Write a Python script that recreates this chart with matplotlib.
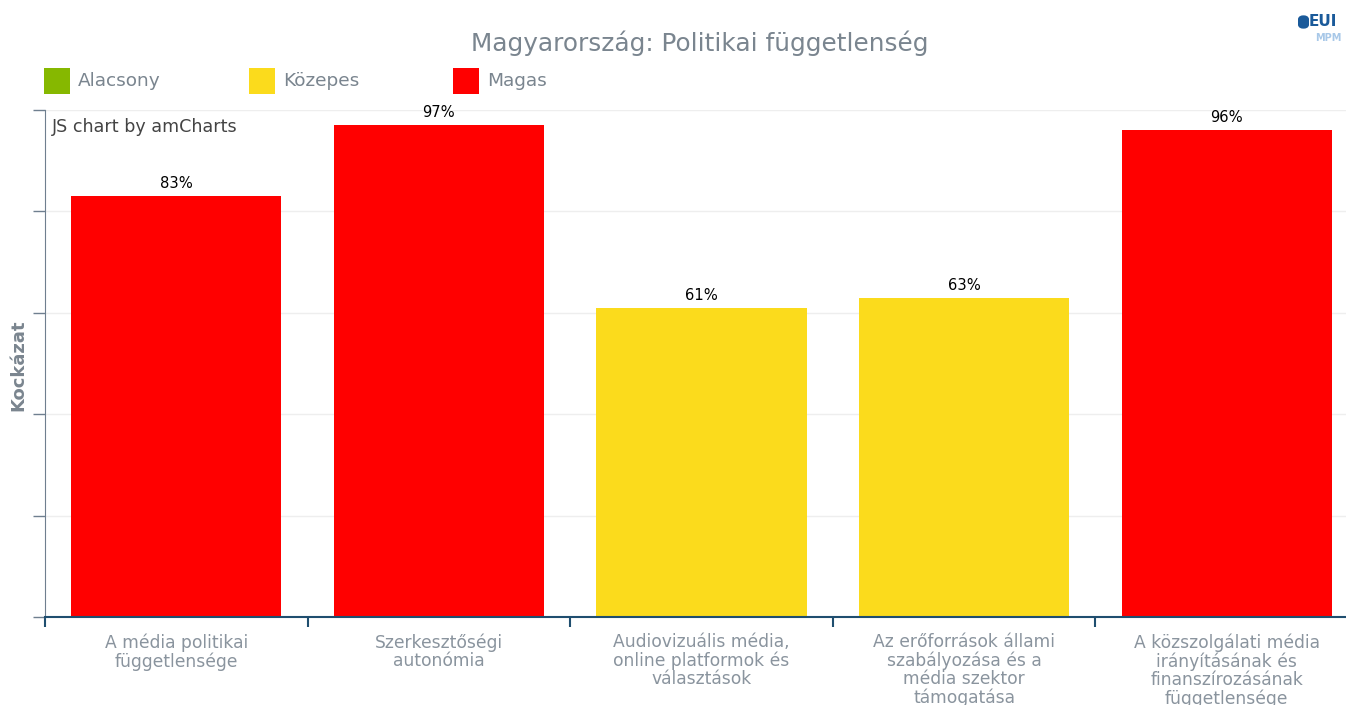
import matplotlib.pyplot as plt
from matplotlib.patches import Rectangle, FancyBboxPatch
import numpy as np

categories = ["A média politikai\nfüggetlensége",
              "Szerkesztőségi\nautonómia",
              "Audiovizuális média,\nonline platformok és\nválasztások",
              "Az erőforrások állami\nszabályozása és a\nmédia szektor\ntámogatása",
              "A közszolgálati média\nirányításának és\nfinanszírozásának\nfüggetlensége"]
values = [83, 97, 61, 63, 96]
levels = ["Magas", "Magas", "Közepes", "Közepes", "Magas"]
legend_names = ["Alacsony", "Közepes", "Magas"]
level_colors = {"Alacsony": "#86b800", "Közepes": "#fbdb1c", "Magas": "#ff0000"}

W, H = 1346, 705
fig = plt.figure(figsize=(W / 100, H / 100), dpi=100)
plt.rcParams['font.family'] = ['DejaVu Sans']

# plot area in pixels (right edge is past the image, like the original)
left, right, top, bottom = 45, 1346, 110, 617
ax = fig.add_axes([left / W, 1 - bottom / H, (right - left) / W, (bottom - top) / H])
cat_w = 262.6

x = np.arange(len(values))
cols = [level_colors[l] for l in levels]
bars = ax.bar(x, values, width=0.8, color=cols, zorder=2)
for xi, v in zip(x, values):
    ax.text(xi, v + 1.0, f"{v}%", ha='center', va='bottom', fontsize=10.6, color='black', zorder=3)

ax.set_yticks(np.arange(0, 101, 20))
ax.set_yticklabels([])
ax.grid(axis='y', color='#eeeeee', lw=1, zorder=0)
ax.tick_params(axis='y', length=9, color='#6f7f8f', width=1)
ax.set_xticks(np.arange(-0.5, 4.0, 1))
ax.set_xticklabels([])
ax.tick_params(axis='x', length=7, color='#1f4e6f', width=1.5, direction='out')
ax.set_xlim(-0.5, -0.5 + (right - left) / cat_w)
ax.set_ylim(0, 100)
for xi, c in zip(x, categories):
    ax.text(xi, -3.2, c, ha='center', va='top', fontsize=12.3, color='#8a949e',
            linespacing=1.02, clip_on=False)

for s in ['top', 'right']:
    ax.spines[s].set_visible(False)
ax.spines['left'].set_color('#6f7f8f')
ax.spines['bottom'].set_color('#1f4e6f')
ax.spines['bottom'].set_linewidth(1.5)

ax.text(0.005, 0.985, "JS chart by amCharts", transform=ax.transAxes, ha='left', va='top',
        fontsize=12.6, color='#444444')

fig.text(18 / W, 1 - 365 / H, "Kockázat", rotation=90, ha='center', va='center',
         fontsize=13, fontweight='bold', color='#7a858f')
fig.text(700 / W, 1 - 43 / H, "Magyarország: Politikai függetlenség", ha='center', va='center',
         fontsize=17.8, color='#7a858f')

# legend
leg_x = [44, 249, 453]
for lx, name in zip(leg_x, legend_names):
    fig.patches.append(Rectangle((lx / W, 1 - 94 / H), 26 / W, 26 / H, transform=fig.transFigure,
                                 facecolor=level_colors[name], edgecolor='none'))
    fig.text((lx + 34) / W, 1 - 81 / H, name, ha='left', va='center', fontsize=13.3, color='#7a858f')

# logo
fig.patches.append(FancyBboxPatch((1298 / W, 1 - 29 / H), 11 / W, 14 / H,
                                  boxstyle="round,pad=0,rounding_size=0.006",
                                  transform=fig.transFigure, facecolor='#1a5a9a', edgecolor='none'))
fig.text(1323 / W, 1 - 21 / H, "EUI", ha='center', va='center', fontsize=11,
         fontweight='bold', color='#1a5a9a')
fig.text(1328 / W, 1 - 38 / H, "MPM", ha='center', va='center', fontsize=7,
         fontweight='bold', color='#a8c8e8')

fig.savefig("out.png", dpi=100)
